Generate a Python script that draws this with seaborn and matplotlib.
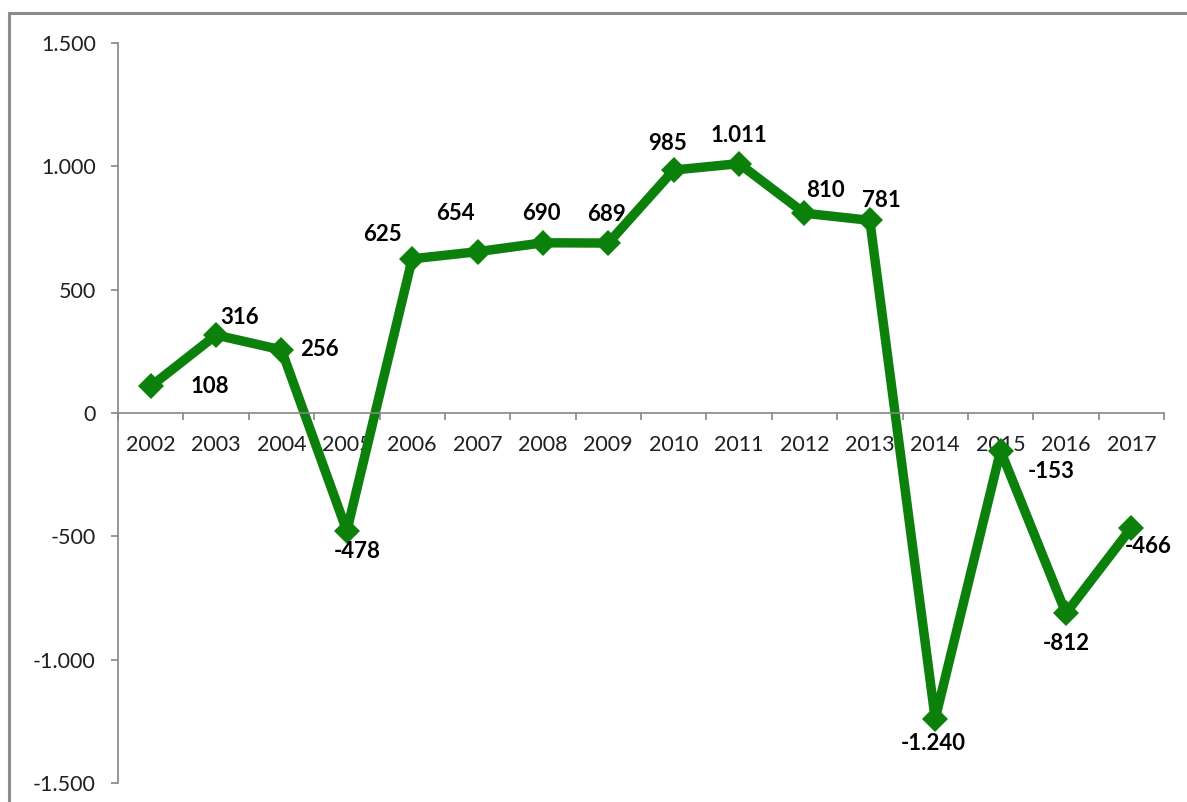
import numpy as np
import pandas as pd
import matplotlib
matplotlib.use("Agg")
import matplotlib.pyplot as plt
from matplotlib.ticker import FuncFormatter, FixedLocator
from matplotlib.patches import Rectangle
import seaborn as sns

# datos
years = ["2002", "2003", "2004", "2005", "2006", "2007", "2008", "2009",
         "2010", "2011", "2012", "2013", "2014", "2015", "2016", "2017"]
values = [108, 316, 256, -478, 625, 654, 690, 689,
          985, 1011, 810, 781, -1240, -153, -812, -466]
y_ticks = [-1500, -1000, -500, 0, 500, 1000, 1500]

# desplazamiento de etiquetas (pixeles, x a la derecha, y hacia abajo)
label_offsets = [(59, 0), (23, -18), (38, 0), (10, 21), (-30, -24), (-22, -38),
                 (-2, -29), (-2, -29), (-6, -27), (0, -28), (21, -23), (12, -20),
                 (-2, 25), (51, 21), (0, 30), (17, 19)]


def fmt_es(v, pos=None):
    return f"{int(v):,}".replace(",", ".")


sns.set_theme(style="white")
plt.rcParams["font.family"] = ["Lato", "DejaVu Sans"]

df = pd.DataFrame({"pos": np.arange(len(years)), "valor": values})

W, H = 1187, 802
fig = plt.figure(figsize=(W / 100, H / 100), dpi=100)
ax = fig.add_axes([118 / W, 1 - 783 / H, (1164 - 118) / W, (783 - 43) / H])

green = "#0b800b"
sns.lineplot(data=df, x="pos", y="valor", ax=ax, color=green, linewidth=6.8,
             marker="D", markersize=13, markeredgecolor=green, markeredgewidth=0)

for i, (v, (dx, dy)) in enumerate(zip(values, label_offsets)):
    ax.annotate(fmt_es(v), (i, v), xytext=(dx, -dy), textcoords="offset pixels",
                ha="center", va="center", fontsize=16, fontweight="bold", color="black")

ax.set_xlim(-0.5, len(years) - 0.5)
ax.set_ylim(-1500, 1500)
ax.set_yticks(y_ticks)
ax.yaxis.set_major_formatter(FuncFormatter(fmt_es))

# ticks entre categorias, etiquetas en el centro
ax.xaxis.set_major_locator(FixedLocator(np.arange(-0.5, len(years), 1)))
ax.xaxis.set_major_formatter(FuncFormatter(lambda v, p: ""))
ax.set_xticks(np.arange(len(years)), minor=True)
ax.set_xticklabels(years, minor=True)

ax.set_xlabel("")
ax.set_ylabel("")

axis_col = "#868686"
for s in ["top", "right"]:
    ax.spines[s].set_visible(False)
ax.spines["bottom"].set_position(("data", 0))
ax.spines["bottom"].set_color(axis_col)
ax.spines["left"].set_color(axis_col)
ax.spines["bottom"].set_linewidth(1.2)
ax.spines["left"].set_linewidth(1.2)

ax.tick_params(axis="x", which="major", direction="out", length=5, width=1.2,
               color=axis_col, bottom=True)
ax.tick_params(axis="x", which="minor", length=0, pad=16, labelsize=15.5,
               labelcolor="#1f1f1f", bottom=True)
ax.tick_params(axis="y", which="major", direction="out", length=5, width=1.2,
               color=axis_col, left=True, pad=11, labelsize=15.5, labelcolor="#1f1f1f")
ax.grid(False)

# marco del grafico
fig.patches.append(Rectangle((9 / W, -0.1), 1.2, 1 - 13 / H + 0.1,
                             transform=fig.transFigure, fill=False,
                             edgecolor="#8c8c8c", linewidth=2.2))

fig.savefig("out.png", dpi=100, facecolor="white")
